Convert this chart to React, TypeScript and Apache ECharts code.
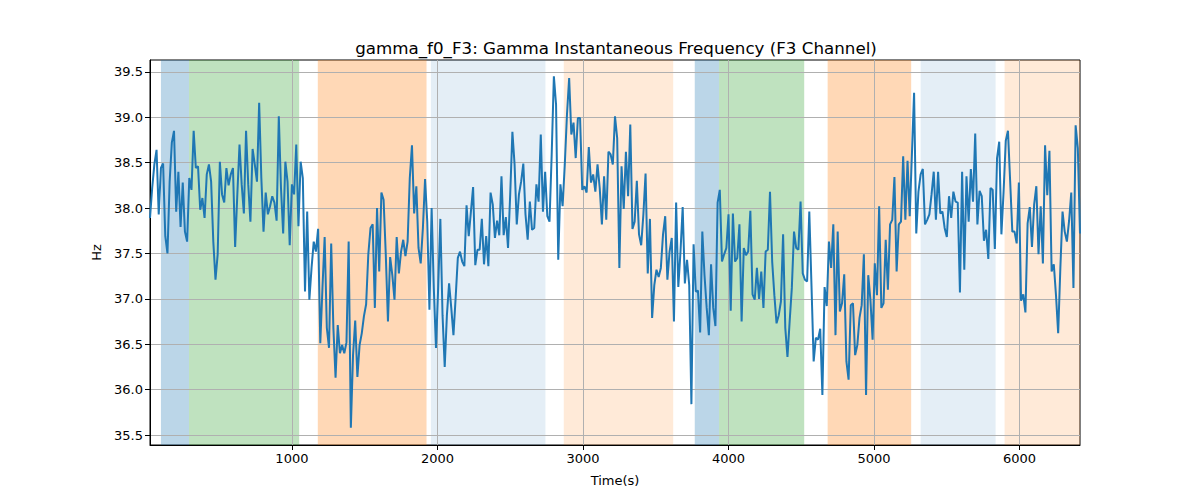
import { useEffect, useRef } from "react";
import * as echarts from "echarts";

// sampling of the signal (seconds)
const startTime = 25;
const timeStep = 15;

// gamma instantaneous frequency (Hz), read segment by segment
const freqSeg1 = [
  37.89, 38.22, 38.48, 38.64, 37.93, 38.44, 38.49, 37.69, 37.5, 38.29,
  38.72, 38.85, 37.96, 38.4, 37.79, 38.28, 37.74, 37.63, 38.33, 38.2,
  38.85, 38.44, 38.46, 37.98, 38.11, 37.89, 38.37, 38.48, 38.29, 37.63,
  37.21, 37.49, 38.51, 38.15, 38.06, 38.44, 38.25, 38.37, 38.44, 37.57,
  38.15, 38.7, 38.26, 37.94, 38.85, 38.26, 37.85, 38.65, 38.48, 38.29,
  39.16, 38.33, 37.74, 38.17, 37.93, 38.02, 38.13, 38.06, 37.86, 39.01,
  38.22, 37.72, 38.51, 38.29, 37.59, 38.26, 38.15, 38.7, 37.8, 38.51,
  38.33, 37.08, 37.96, 36.99, 37.34,
];
const freqSeg2 = [
  37.63, 37.52, 37.77, 36.51, 37.12, 37.68, 36.68, 36.46, 37.61, 36.68,
  36.13, 36.71, 36.4, 36.49, 36.4, 36.52, 37.63, 35.58, 36.38, 36.76,
  36.14, 36.49, 36.62, 36.81, 36.94, 37.49, 37.78, 37.82, 36.9, 38.0,
  37.3, 38.17, 38.09, 37.49, 36.75, 37.46, 37.26, 36.99, 37.68, 37.28,
  37.52, 37.65, 37.47, 37.63, 38.33, 38.69, 37.94, 38.24, 37.56, 37.39,
  37.78, 38.32, 37.85, 36.88, 38.0, 37.12, 36.46, 37.12, 37.88, 36.82,
  36.25, 36.82, 37.17, 36.9, 36.6, 37.01, 37.45, 37.52,
];
const freqSeg3 = [
  37.41, 37.36, 38.03, 37.69, 37.96, 38.23, 37.37, 37.54, 37.54, 37.88,
  37.38, 37.69, 37.36, 38.17, 38.04, 37.67, 37.86, 37.7, 38.35, 37.7,
  37.9, 37.56, 38.15, 38.84, 38.48, 37.82, 38.15, 38.29, 38.49, 37.93,
  37.65, 38.07, 37.76, 37.78, 38.26, 38.07, 38.81, 37.96, 38.4, 37.91,
  37.85, 38.59, 39.45, 39.14, 37.43, 38.26, 38.02, 38.48, 39.03, 39.43,
  38.81, 38.94, 38.55, 38.99, 38.99, 38.2, 38.24, 38.17, 38.67, 38.28,
  38.37, 38.18, 38.48, 38.22, 37.82, 38.35, 37.87, 38.62,
];
const freqSeg4 = [
  38.59, 38.48, 39.01, 38.77, 37.34, 38.46, 37.99, 38.62, 38.13, 38.92,
  37.77, 37.85, 38.3, 37.71, 37.59, 37.93, 38.38, 37.28, 37.88, 36.79,
  37.15, 37.32, 37.24, 37.34, 37.71, 37.91, 37.21, 37.52, 37.67, 36.75,
  38.06, 37.13, 37.52, 38.01, 37.17, 37.43, 37.15, 35.84, 37.6, 37.08,
  37.09, 36.63, 37.74, 37.26, 36.9, 36.6, 37.38, 36.9, 36.7, 38.06,
  38.2, 37.41, 37.49, 37.56, 37.93, 36.87, 37.94, 37.41, 37.45, 37.82,
  36.75, 37.56, 37.48, 37.52, 37.97, 37.05, 36.99, 37.34, 37.0,
];
const freqSeg5 = [
  37.3, 36.9, 37.52, 37.54, 38.18, 37.41, 37.04, 36.73, 36.82, 36.97,
  37.71, 36.68, 36.36, 36.75, 37.12, 37.74, 37.56, 37.54, 38.07, 37.28,
  37.21, 37.19, 37.96, 37.15, 36.31, 36.57, 36.55, 36.67, 35.94, 37.13,
  36.92, 37.63, 37.34, 37.82, 36.6, 37.74, 36.86, 36.95, 37.27, 36.31,
  36.11, 36.93, 36.95, 36.38, 36.49, 36.79, 36.93, 37.49, 35.94, 37.26,
  36.99, 36.55, 37.39, 37.04, 38.02, 36.9, 36.95, 37.65, 37.1, 37.82,
  37.87, 38.34, 37.3, 37.82, 37.85, 38.57, 37.87, 38.52, 37.91, 38.59,
  39.27, 37.72, 38.18,
];
const freqSeg6 = [
  38.37, 38.43, 37.82, 37.87, 37.93, 38.15, 38.4, 37.87, 38.4, 37.94,
  37.96, 37.78, 37.68, 38.13, 37.89, 38.18, 38.07, 38.06, 37.07, 38.4,
  37.32, 38.35, 37.85, 38.43, 38.07, 38.82, 37.82, 38.19, 38.13, 37.64,
  37.76, 37.44, 38.22, 38.2, 37.55, 38.55, 38.73, 37.71, 38.18, 38.74,
  38.85, 38.3, 37.74, 37.74, 37.61, 38.28, 36.98, 37.05, 36.85, 37.83,
  38.01, 37.57, 38.04, 38.24, 37.49, 38.02, 37.39, 38.69, 38.14, 38.63,
  37.3, 37.38, 37.04, 36.62, 37.34, 37.96, 37.74, 37.63, 37.86, 38.17,
  37.12, 38.91, 38.66, 37.72,
];

// shaded stages: [from, to, kind]
const bands: [number, number, string][] = [
  [100, 293, "blue"],
  [293, 1050, "green"],
  [1178, 1925, "orange"],
  [1955, 2742, "lightBlue"],
  [2868, 3620, "lightOrange"],
  [3768, 3935, "blue"],
  [3935, 4520, "green"],
  [4681, 5255, "orange"],
  [5320, 5835, "lightBlue"],
  [5897, 6415, "lightOrange"],
];

const xTicks = [1000, 2000, 3000, 4000, 5000, 6000];
const yTicks = [35.5, 36.0, 36.5, 37.0, 37.5, 38.0, 38.5, 39.0, 39.5];

const bandColors: Record<string, string> = {
  blue: "rgba(31,119,180,0.3)",
  green: "rgba(44,160,44,0.3)",
  orange: "rgba(255,127,14,0.3)",
  lightBlue: "rgba(31,119,180,0.12)",
  lightOrange: "rgba(255,127,14,0.16)",
};

const font = "DejaVu Sans";

export default function App() {
  const chartRef = useRef<HTMLDivElement>(null);

  useEffect(() => {
    if (!chartRef.current) return;
    const chart = echarts.init(chartRef.current, undefined, { renderer: "svg" });

    const freq = [...freqSeg1, ...freqSeg2, ...freqSeg3, ...freqSeg4, ...freqSeg5, ...freqSeg6];
    const points = freq.map((v, i) => [startTime + i * timeStep, v]);

    const option: echarts.EChartsOption = {
      animation: false,
      backgroundColor: "#fff",
      textStyle: { fontFamily: font },
      title: {
        text: "gamma_f0_F3: Gamma Instantaneous Frequency (F3 Channel)",
        left: 611,
        top: 34,
        textAlign: "center",
        textStyle: { fontFamily: font, fontSize: 16.7, fontWeight: "normal", color: "#000" },
      },
      grid: {
        left: 150,
        right: 120,
        top: 60,
        bottom: 55,
        show: true,
        borderColor: "#000",
        borderWidth: 1,
        backgroundColor: "transparent",
      },
      xAxis: {
        type: "value",
        min: startTime,
        max: 6415,
        z: 1,
        name: "Time(s)",
        nameLocation: "middle",
        nameGap: 29,
        nameTextStyle: { fontFamily: font, fontSize: 13, color: "#000" },
        axisLine: { show: true, onZero: false, lineStyle: { color: "#000" } },
        axisTick: { show: true, length: 5, customValues: xTicks, lineStyle: { color: "#000" } },
        axisLabel: {
          customValues: xTicks,
          margin: 7,
          fontFamily: font,
          fontSize: 13,
          color: "#000",
          formatter: (v: number) => String(v),
        },
        splitLine: { show: true, lineStyle: { color: "#b0b0b0", width: 1 } },
      },
      yAxis: {
        type: "value",
        min: 35.39,
        max: 39.63,
        z: 1,
        name: "Hz",
        nameLocation: "middle",
        nameGap: 47,
        nameTextStyle: { fontFamily: font, fontSize: 13, color: "#000" },
        axisLine: { show: true, lineStyle: { color: "#000" } },
        axisTick: { show: true, length: 5, customValues: yTicks, lineStyle: { color: "#000" } },
        axisLabel: {
          customValues: yTicks,
          margin: 7,
          fontFamily: font,
          fontSize: 13,
          color: "#000",
          formatter: (v: number) => v.toFixed(1),
        },
        splitLine: { show: true, lineStyle: { color: "#b0b0b0", width: 1 } },
      },
      series: [
        {
          type: "line",
          z: 0,
          silent: true,
          data: points,
          showSymbol: false,
          lineStyle: { opacity: 0, width: 0 },
          markArea: {
            silent: true,
            z: 0,
            data: bands.map(([from, to, kind]) => [
              { xAxis: from, itemStyle: { color: bandColors[kind] } },
              { xAxis: to },
            ]),
          },
        },
        {
          type: "line",
          z: 2,
          data: points,
          showSymbol: false,
          lineStyle: { color: "#1f77b4", width: 2 },
        },
      ],
    };
    chart.setOption(option);

    return () => {
      chart.dispose();
    };
  }, []);

  return (
    <div
      ref={chartRef}
      style={{ position: "fixed", left: 0, top: 0, width: "1200px", height: "500px" }}
    />
  );
}
